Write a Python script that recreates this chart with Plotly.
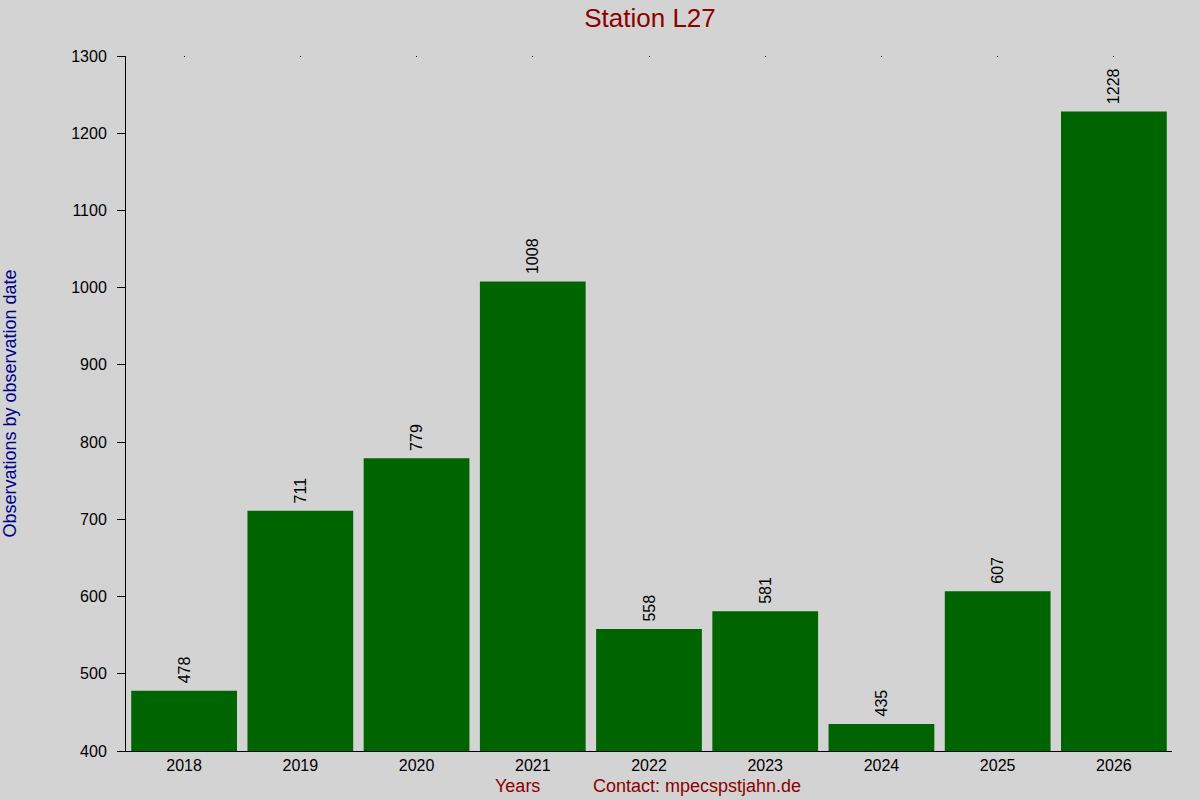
import plotly.graph_objects as go

# Data
years = ["2018", "2019", "2020", "2021", "2022", "2023", "2024", "2025", "2026"]
observations = [478, 711, 779, 1008, 558, 581, 435, 607, 1228]
y_ticks = [400, 500, 600, 700, 800, 900, 1000, 1100, 1200, 1300]

fig = go.Figure(go.Bar(
    x=years,
    y=observations,
    marker=dict(color="#006400", line=dict(width=0)),
    text=["\u00a0" + str(v) for v in observations],
    textposition="outside",
    textangle=-90,
    textfont=dict(size=16, color="black"),
    cliponaxis=False,
    hoverinfo="x+y",
))

# invisible helper trace so the top axis (with its tiny tick dots) gets drawn
fig.add_trace(go.Scatter(x=years, y=observations, xaxis="x2", mode="markers",
                         marker=dict(opacity=0), hoverinfo="skip"))

fig.update_layout(
    width=1200, height=800,
    paper_bgcolor="#d3d3d3", plot_bgcolor="#d3d3d3",
    font=dict(family="Liberation Sans, Arial", size=16, color="black"),
    margin=dict(l=126, r=28, t=56, b=49),
    bargap=0.09,
    showlegend=False,
    title=dict(text="Station L27", x=650 / 1200, xanchor="center", y=1 - 18 / 800, yanchor="middle",
               font=dict(size=26, color="#8b0000")),
    xaxis=dict(showgrid=False, showline=True, linecolor="black", linewidth=1,
               ticks="", tickfont=dict(size=16), automargin=False),
    xaxis2=dict(matches="x", overlaying="x", side="top", showticklabels=False, automargin=False,
                showline=False, showgrid=False, ticks="inside", ticklen=1, tickcolor="black"),
    yaxis=dict(range=[400, 1300], tickvals=y_ticks, showgrid=False, zeroline=False,
               showline=True, linecolor="black", linewidth=1, automargin=False,
               ticks="outside", ticklen=8, tickcolor="black", tickfont=dict(size=16),
               ticklabelstandoff=7,
               title=dict(text="Observations by observation date", standoff=76,
                          font=dict(size=18, color="#00008b"))),
)

fig.add_annotation(text="Years", xref="paper", yref="paper", x=(517 - 126) / 1046, y=-(786 - 751) / 695,
                   yanchor="middle", showarrow=False, font=dict(size=18, color="#8b0000"))
fig.add_annotation(text="Contact: mpecspstjahn.de", xref="paper", yref="paper",
                   x=(697 - 126) / 1046, y=-(786 - 751) / 695, yanchor="middle", showarrow=False,
                   font=dict(size=18, color="#8b0000"))

fig.write_html("out.html", config={"displayModeBar": False},
               post_script="document.body.style.margin='0';document.body.style.overflow='hidden';")
